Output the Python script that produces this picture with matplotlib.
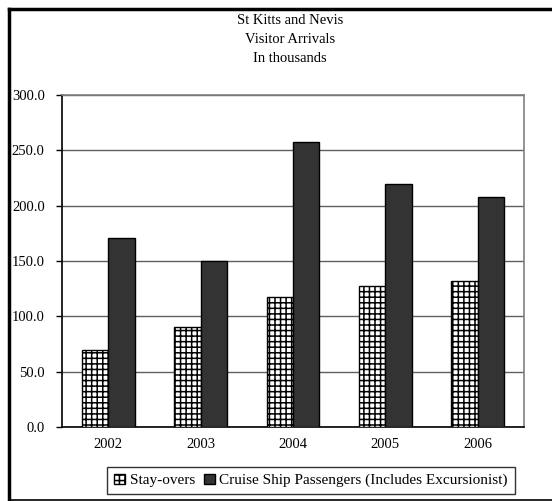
import matplotlib
matplotlib.use("Agg")
import matplotlib.pyplot as plt
from matplotlib.lines import Line2D
import numpy as np

# dados
anos = ["2002", "2003", "2004", "2005", "2006"]
stay_overs = [69.4, 90.6, 117.2, 127.5, 132.2]
cruzeiros = [170.6, 150.0, 257.8, 219.7, 207.8]
ticks_y = [0, 50, 100, 150, 200, 250, 300]
titulo = ["St Kitts and Nevis", "Visitor Arrivals", "In thousands"]

plt.rcParams['font.family'] = ['Liberation Serif', 'DejaVu Serif']
plt.rcParams['hatch.linewidth'] = 1.1
plt.rcParams['hatch.color'] = '#404040'
FS = 10.5

W, H = 552, 501
fig = plt.figure(figsize=(W / 100, H / 100), dpi=100)
ax = fig.add_axes([62 / W, 1 - 427 / H, (524 - 62) / W, (427 - 95) / H])

x = np.arange(len(anos))
w = 0.286
ax.bar(x - w / 2, stay_overs, w, facecolor='white', edgecolor='black',
       hatch='+++', linewidth=1.0, label='Stay-overs', zorder=3)
ax.bar(x + w / 2, cruzeiros, w, facecolor='#333333', edgecolor='black',
       linewidth=1.0, label='Cruise Ship Passengers (Includes Excursionist)', zorder=3)

ax.set_xlim(-0.5, len(anos) - 0.5)
ax.set_ylim(0, 300)
ax.set_yticks(ticks_y)
ax.set_yticklabels([f"{v:.1f}" for v in ticks_y], fontsize=FS)
ax.set_xticks(x)
ax.set_xticklabels(anos, fontsize=FS)
ax.tick_params(axis='x', length=0, pad=8)
ax.tick_params(axis='y', length=4, width=1, pad=8.5, direction='out')
ax.yaxis.grid(True, color='#606060', linewidth=1.0, zorder=0)
ax.set_axisbelow(True)

for lado in ['top', 'right']:
    ax.spines[lado].set_color('#808080')
    ax.spines[lado].set_linewidth(1.2)
for lado in ['left', 'bottom']:
    ax.spines[lado].set_color('black')
    ax.spines[lado].set_linewidth(1.2)

# titulo em tres linhas
for i, linha in enumerate(titulo):
    fig.text(290 / W, 1 - (20 + 19 * i) / H, linha, ha='center', va='center', fontsize=FS)

leg = fig.legend(loc='center', bbox_to_anchor=(311 / W, 1 - 480.5 / H), ncol=2,
                 fontsize=11, frameon=True, fancybox=False, shadow=False,
                 handlelength=0.7, handleheight=0.7, handletextpad=0.3,
                 columnspacing=0.6, borderpad=0.45, borderaxespad=0)
leg.get_frame().set_edgecolor('black')
leg.get_frame().set_linewidth(1.0)

# moldura da figura
fig.add_artist(Line2D([8.5 / W, 8.5 / W], [1 - 8.5 / H, 1 - 500 / H],
                      transform=fig.transFigure, color='black', linewidth=2.5))
fig.add_artist(Line2D([8.5 / W, 1.0], [1 - 8.5 / H, 1 - 8.5 / H],
                      transform=fig.transFigure, color='black', linewidth=2.5))
fig.add_artist(Line2D([8.5 / W, 1.0], [1 - 499.5 / H, 1 - 499.5 / H],
                      transform=fig.transFigure, color='black', linewidth=1.2))

fig.savefig("out.png", dpi=100)
